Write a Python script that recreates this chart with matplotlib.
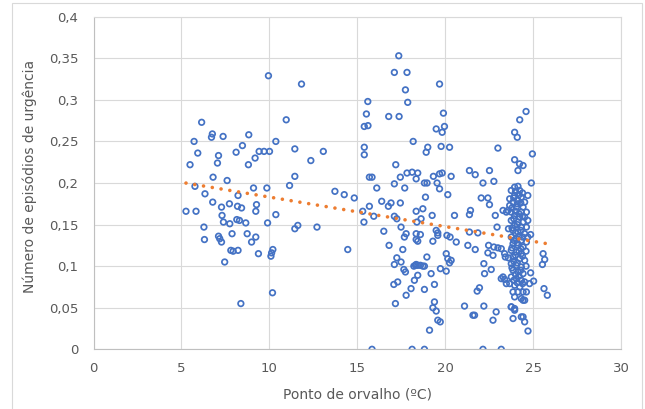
import matplotlib
matplotlib.use("Agg")
import matplotlib.pyplot as plt
from matplotlib.patches import Rectangle

# Dew point (ºC) and emergency episode rate, one pair per observation
dew_point = [
    # cooler days, 5-13 ºC
    9.95, 11.83, 6.15, 10.96, 6.76, 6.71, 7.37, 8.83, 5.72, 10.37, 8.47, 5.93, 8.11, 7.11,
    9.42, 9.70, 10.01, 11.45, 9.19, 7.05, 5.49, 8.81, 12.36, 6.80, 7.60, 11.45, 5.77, 9.10,
    9.86, 11.15, 6.34, 8.22, 6.78, 7.73, 7.28, 8.19, 8.42, 9.27, 9.23, 5.26, 5.83, 7.31,
    10.37, 7.39, 7.75, 8.15, 8.30, 8.66, 9.90, 6.28, 11.62, 11.45, 7.11, 7.18, 7.88, 8.74,
    9.23, 6.31, 7.28, 8.99, 7.81, 7.94, 8.22, 10.20, 10.13, 9.38, 10.09, 7.46, 10.18, 8.38,
    # 13-18.5 ºC
    17.36, 17.11, 17.83, 17.74, 17.87, 15.60, 15.52, 16.79, 17.38, 15.40, 15.61, 18.18,
    15.40, 15.40, 13.07, 17.19, 17.83, 18.12, 17.45, 15.69, 15.84, 18.35, 16.11, 17.11,
    17.70, 13.73, 14.26, 14.83, 16.39, 16.92, 17.45, 16.77, 15.69, 15.31, 15.94, 17.11,
    18.35, 15.38, 17.49, 16.51, 18.35, 17.68, 18.35, 16.81, 17.59, 14.46, 12.71, 17.25,
    17.49, 17.11, 17.65, 18.35, 17.74, 18.25, 17.30, 17.08, 18.06, 17.78, 17.17, 15.84,
    18.12,
    # 18.5-20.5 ºC
    19.68, 19.90, 19.49, 19.96, 19.83, 19.01, 18.92, 19.77, 20.25, 18.44, 18.82, 18.97,
    19.33, 19.68, 19.83, 19.54, 20.34, 19.68, 20.15, 18.88, 18.73, 19.26, 18.63, 17.25,
    18.39, 17.78, 18.59, 18.44, 19.49, 19.58, 19.58, 19.30, 20.10, 20.28, 18.22, 18.31,
    18.44, 18.59, 18.73, 18.82, 18.96, 18.44, 19.20, 19.73, 20.06, 20.15, 20.34, 18.82,
    19.39, 19.39, 19.30, 19.49, 19.58, 19.72, 19.11, 18.82,
    # 20.5-26 ºC, scattered
    23.00, 24.96, 24.60, 24.24, 23.95, 24.10, 21.38, 21.71, 22.52, 22.77, 22.15, 22.05,
    22.43, 22.52, 21.44, 21.38, 20.53, 22.85, 23.29, 23.57, 20.63, 21.29, 21.71, 21.38,
    21.86, 22.47, 22.77, 23.00, 23.19, 23.38, 22.43, 22.72, 23.42, 22.95, 22.20, 22.62,
    22.24, 20.25, 20.06, 21.95, 21.82, 21.10, 21.58, 21.67, 22.20, 22.90, 22.72, 23.19,
    23.29, 23.38, 23.48, 23.76, 23.95, 23.86, 24.33, 24.52, 24.71, 22.15, 23.19,
    24.86, 25.03, 24.80, 25.62, 25.81, 24.90, 23.95, 24.23, 24.43, 24.14, 24.86, 25.57,
    25.66, 25.53, 24.43,
    # dense group around 24 ºC
    23.95, 24.14, 23.76, 24.24, 23.95, 23.67, 24.33, 23.86, 24.14, 24.52, 23.67, 24.05,
    24.43, 23.48, 23.76, 24.33, 24.62, 23.95, 24.24, 24.52, 23.76, 24.14, 24.43, 23.95,
    24.33, 24.62, 23.86, 24.14, 24.52, 23.76, 24.05, 24.33, 24.62, 23.86, 24.14, 24.43,
    23.76, 24.05, 24.33, 23.86, 24.24, 24.52, 23.76, 24.05, 24.33, 23.86, 24.14, 24.43,
    23.76, 24.05, 24.33, 24.52, 23.67, 23.95, 24.24, 23.86, 24.14, 24.43, 24.62, 23.95,
    24.33, 24.52, 23.76, 23.95, 24.43,
    24.00, 24.20, 23.90, 24.40, 24.10, 23.80, 24.30, 24.00, 24.20, 23.90, 24.40, 24.10,
    23.80, 24.30, 24.00, 24.20, 23.90, 24.40, 24.10, 23.80, 24.30, 24.00, 24.20, 23.90,
    24.40, 24.10, 23.80, 24.30, 24.00, 24.20, 23.90, 24.40, 24.10, 24.60, 24.70, 24.60,
    23.60, 23.60, 24.70, 24.70,
]

episodes = [
    0.329, 0.319, 0.273, 0.276, 0.259, 0.255, 0.256, 0.258, 0.250, 0.250, 0.245, 0.236, 0.237, 0.233,
    0.238, 0.238, 0.238, 0.241, 0.230, 0.224, 0.222, 0.222, 0.227, 0.207, 0.203, 0.208, 0.196, 0.194,
    0.194, 0.197, 0.187, 0.185, 0.177, 0.175, 0.171, 0.172, 0.170, 0.174, 0.166, 0.166, 0.166, 0.161,
    0.162, 0.153, 0.151, 0.156, 0.155, 0.152, 0.152, 0.147, 0.149, 0.145, 0.136, 0.133, 0.139, 0.139,
    0.135, 0.132, 0.129, 0.129, 0.119, 0.118, 0.119, 0.120, 0.116, 0.115, 0.112, 0.105, 0.068, 0.055,
    0.353, 0.333, 0.333, 0.312, 0.297, 0.298, 0.283, 0.280, 0.280, 0.268, 0.269, 0.250,
    0.243, 0.234, 0.238, 0.222, 0.212, 0.213, 0.207, 0.207, 0.207, 0.205, 0.194, 0.199,
    0.194, 0.190, 0.186, 0.182, 0.178, 0.176, 0.176, 0.172, 0.172, 0.166, 0.160, 0.160,
    0.166, 0.153, 0.147, 0.142, 0.139, 0.135, 0.132, 0.125, 0.120, 0.120, 0.147, 0.110,
    0.105, 0.102, 0.096, 0.102, 0.093, 0.083, 0.081, 0.078, 0.073, 0.065, 0.055, 0.000,
    0.000,
    0.319, 0.284, 0.265, 0.268, 0.261, 0.243, 0.237, 0.244, 0.243, 0.212, 0.200, 0.200,
    0.208, 0.211, 0.212, 0.200, 0.208, 0.193, 0.186, 0.183, 0.169, 0.161, 0.157, 0.157,
    0.153, 0.139, 0.138, 0.130, 0.143, 0.140, 0.137, 0.130, 0.137, 0.135, 0.100, 0.101,
    0.101, 0.101, 0.100, 0.100, 0.111, 0.089, 0.091, 0.097, 0.115, 0.109, 0.107, 0.072,
    0.078, 0.057, 0.050, 0.046, 0.035, 0.033, 0.023, 0.000,
    0.242, 0.235, 0.286, 0.276, 0.261, 0.255, 0.215, 0.210, 0.215, 0.202, 0.200, 0.182,
    0.182, 0.174, 0.167, 0.162, 0.161, 0.161, 0.167, 0.167, 0.129, 0.125, 0.120, 0.141,
    0.140, 0.125, 0.123, 0.122, 0.121, 0.115, 0.116, 0.113, 0.111, 0.147, 0.103, 0.096,
    0.091, 0.104, 0.094, 0.074, 0.070, 0.052, 0.041, 0.041, 0.052, 0.045, 0.035, 0.085,
    0.087, 0.084, 0.079, 0.051, 0.049, 0.037, 0.039, 0.033, 0.022, 0.000, 0.000,
    0.092, 0.082, 0.079, 0.073, 0.065, 0.200, 0.228, 0.223, 0.221, 0.215, 0.138, 0.115,
    0.108, 0.102, 0.059,
    0.195, 0.196, 0.191, 0.191, 0.185, 0.181, 0.183, 0.177, 0.179, 0.177, 0.173, 0.171,
    0.171, 0.165, 0.165, 0.165, 0.165, 0.161, 0.159, 0.159, 0.155, 0.153, 0.153, 0.149,
    0.147, 0.147, 0.143, 0.141, 0.139, 0.135, 0.133, 0.131, 0.129, 0.127, 0.125, 0.123,
    0.119, 0.117, 0.115, 0.111, 0.109, 0.107, 0.103, 0.101, 0.099, 0.095, 0.093, 0.091,
    0.087, 0.085, 0.083, 0.081, 0.079, 0.077, 0.075, 0.069, 0.069, 0.069, 0.069, 0.063,
    0.061, 0.059, 0.051, 0.047, 0.039,
    0.190, 0.186, 0.182, 0.188, 0.175, 0.170, 0.176, 0.166, 0.163, 0.157, 0.160, 0.150,
    0.146, 0.143, 0.140, 0.136, 0.131, 0.135, 0.128, 0.122, 0.121, 0.113, 0.118, 0.106,
    0.112, 0.104, 0.098, 0.095, 0.090, 0.088, 0.083, 0.079, 0.080, 0.118, 0.135, 0.100,
    0.110, 0.145, 0.155, 0.185,
]

# Linear trend line (episodes = intercept + slope * dew point)
trend_slope = -0.00355
trend_intercept = 0.2186

x_ticks = [0, 5, 10, 15, 20, 25, 30]
x_tick_labels = ["0", "5", "10", "15", "20", "25", "30"]
y_ticks = [0, 0.05, 0.1, 0.15, 0.2, 0.25, 0.3, 0.35, 0.4]
y_tick_labels = ["0", "0,05", "0,1", "0,15", "0,2", "0,25", "0,3", "0,35", "0,4"]

x_title = "Ponto de orvalho (ºC)"
y_title = "Número de episódios de urgência"

plt.rcParams["font.family"] = ["DejaVu Sans"]
text_color = "#595959"
grid_color = "#D9D9D9"

fig = plt.figure(figsize=(6.45, 4.09), dpi=100)
fig.patch.set_facecolor("white")

# chart-area frame
fig.patches.append(Rectangle((12 / 645, -0.01), 630 / 645, (409 - 3) / 409 + 0.01,
                             transform=fig.transFigure, fill=False,
                             edgecolor=grid_color, linewidth=0.8, zorder=0))

ax = fig.add_axes([93.5 / 645, (409 - 349.3) / 409, (621 - 93.5) / 645, (349.3 - 16.7) / 409])

ax.scatter(dew_point, episodes, s=16, facecolors="none", edgecolors="#4472C4",
           linewidths=1.25, zorder=3)

x0, x1 = min(dew_point), max(dew_point)
ax.plot([x0, x1], [trend_intercept + trend_slope * x0, trend_intercept + trend_slope * x1],
        color="#ED7D31", linewidth=2.6, linestyle=(0, (0.01, 2.45)),
        dash_capstyle="round", zorder=4)

ax.set_xlim(0, 30)
ax.set_ylim(0, 0.4)
ax.set_xticks(x_ticks)
ax.set_xticklabels(x_tick_labels)
ax.set_yticks(y_ticks)
ax.set_yticklabels(y_tick_labels)
ax.grid(True, color=grid_color, linewidth=0.8, zorder=0)
ax.set_axisbelow(True)

for side in ["top", "right"]:
    ax.spines[side].set_color(grid_color)
    ax.spines[side].set_linewidth(0.8)
for side in ["left", "bottom"]:
    ax.spines[side].set_color("#BFBFBF")
    ax.spines[side].set_linewidth(0.8)

ax.tick_params(axis="both", length=0, colors=text_color, labelsize=9.5)
ax.tick_params(axis="y", pad=11)
ax.tick_params(axis="x", pad=9)

ax.set_xlabel(x_title, fontsize=10, color=text_color)
ax.set_ylabel(y_title, fontsize=10, color=text_color)
ax.xaxis.set_label_coords(0.5, -0.137)
ax.xaxis.label.set_va("center")
ax.yaxis.set_label_coords(-0.120, 0.521)
ax.yaxis.label.set_va("center")

fig.savefig("out.png", dpi=100)
